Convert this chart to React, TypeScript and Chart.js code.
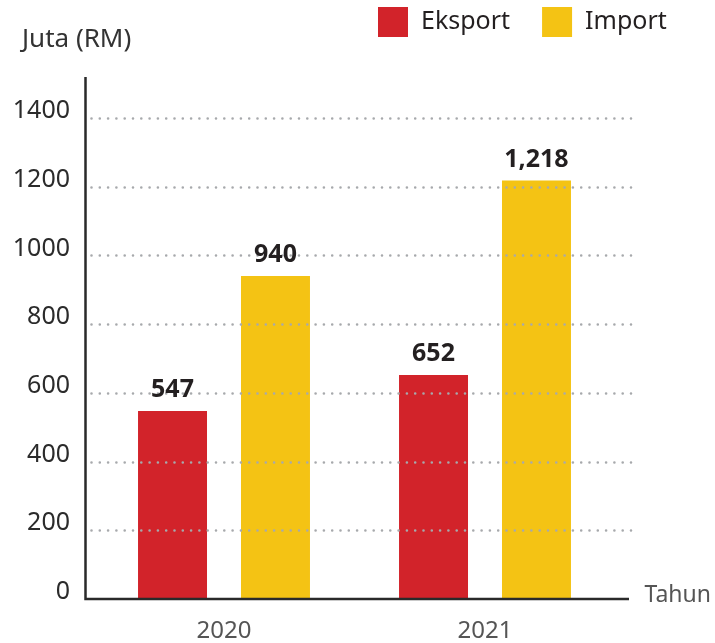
import React, { useEffect, useRef } from "react";
import { Chart, registerables } from "chart.js";

Chart.register(...registerables);

// ---- Data ----
const categories = ["2020", "2021"];
const seriesNames = ["Eksport", "Import"];
const eksportValues = [547, 652];
const importValues = [940, 1218];
const yTickValues = [0, 200, 400, 600, 800, 1000, 1200, 1400];
const yTitle = "Juta (RM)";
const xTitle = "Tahun";

// ---- Styles ----
const COLORS = ["#d2232a", "#f4c314"];
const FONT = "'Noto Sans', sans-serif";
const TEXT_DARK = "#231f20";
const TEXT_GRAY = "#555555";

export default function App() {
  const canvasRef = useRef<HTMLCanvasElement>(null);

  useEffect(() => {
    document.body.style.margin = "0";
    const canvas = canvasRef.current;
    if (!canvas) return;

    const decor = {
      id: "decor",
      afterDatasetsDraw(chart: any) {
        const { ctx, chartArea, scales } = chart;
        const y = scales.y;
        const axisX = chartArea.left - 8;
        ctx.save();

        // dotted gridlines (drawn over bars)
        ctx.strokeStyle = "#a7a9ac";
        ctx.lineWidth = 2.6;
        ctx.lineCap = "round";
        ctx.setLineDash([0, 8.3]);
        for (const t of yTickValues) {
          if (t === 0) continue;
          const py = Math.round(y.getPixelForValue(t)) + 0.5;
          ctx.beginPath();
          ctx.moveTo(axisX + 6, py);
          ctx.lineTo(chartArea.right + 18, py);
          ctx.stroke();
        }
        ctx.setLineDash([]);
        ctx.lineCap = "butt";

        // axes
        ctx.strokeStyle = "#2a2a2a";
        ctx.lineWidth = 2.5;
        const y0 = y.getPixelForValue(0);
        const yTop = y.getPixelForValue(yTickValues[yTickValues.length - 1]) - 41;
        ctx.beginPath();
        ctx.moveTo(axisX, yTop);
        ctx.lineTo(axisX, y0 + 1.25);
        ctx.moveTo(axisX - 1.25, y0);
        ctx.lineTo(chartArea.right + 13.5, y0);
        ctx.stroke();

        // data labels
        ctx.fillStyle = TEXT_DARK;
        ctx.font = `700 25px ${FONT}`;
        ctx.textAlign = "center";
        ctx.textBaseline = "alphabetic";
        chart.data.datasets.forEach((ds: any, di: number) => {
          const meta = chart.getDatasetMeta(di);
          meta.data.forEach((el: any, i: number) => {
            const v = ds.data[i] as number;
            ctx.fillText(v.toLocaleString("en-US"), el.x, el.y - 14);
          });
        });

        // axis titles
        ctx.font = `400 26px ${FONT}`;
        ctx.textBaseline = "middle";
        ctx.textAlign = "left";
        ctx.fillStyle = "#333333";
        ctx.fillText(yTitle, 22, 40);
        ctx.fillStyle = TEXT_GRAY;
        ctx.font = `400 23px ${FONT}`;
        ctx.fillText(xTitle, chartArea.right + 29, y0 - 4);

        // legend
        ctx.font = `400 25px ${FONT}`;
        let lx = 378;
        chart.data.datasets.forEach((ds: any) => {
          ctx.fillStyle = ds.backgroundColor;
          ctx.fillRect(lx, 7, 30, 30);
          ctx.fillStyle = TEXT_DARK;
          ctx.fillText(ds.label, lx + 43, 22);
          lx += 43 + ctx.measureText(ds.label).width + 32;
        });

        ctx.restore();
      },
    };

    const chart = new Chart(canvas, {
      type: "bar",
      data: {
        labels: categories,
        datasets: [
          {
            label: seriesNames[0],
            data: eksportValues,
            backgroundColor: COLORS[0],
            barPercentage: 0.67,
            categoryPercentage: 0.789,
          },
          {
            label: seriesNames[1],
            data: importValues,
            backgroundColor: COLORS[1],
            barPercentage: 0.67,
            categoryPercentage: 0.789,
          },
        ],
      },
      options: {
        responsive: false,
        animation: false,
        layout: { padding: { left: 0, top: 118, right: 99.5, bottom: 0 } },
        plugins: {
          legend: { display: false },
          title: { display: false },
          tooltip: { enabled: false },
        },
        scales: {
          x: {
            type: "category",
            grid: { display: false, drawTicks: false },
            border: { display: false },
            ticks: {
              font: { family: FONT, size: 24 },
              color: TEXT_GRAY,
              padding: 18,
            },
            afterFit: (s: any) => {
              s.height = 44;
            },
          },
          y: {
            type: "linear",
            min: 0,
            max: 1400,
            grid: { display: false, drawTicks: false },
            border: { display: false },
            ticks: {
              stepSize: 200,
              font: { family: FONT, size: 25 },
              color: "#2b2b2b",
              padding: 23.5,
              labelOffset: -7,
              callback: (v: any) => String(v),
            },
            afterFit: (s: any) => {
              s.width = 93.5;
            },
          },
        },
      },
      plugins: [decor],
    });

    return () => chart.destroy();
  }, []);

  return (
    <div style={{ position: "absolute", left: 0, top: 0, width: 715, height: 643 }}>
      <canvas ref={canvasRef} width={715} height={643} style={{ display: "block" }} />
    </div>
  );
}
